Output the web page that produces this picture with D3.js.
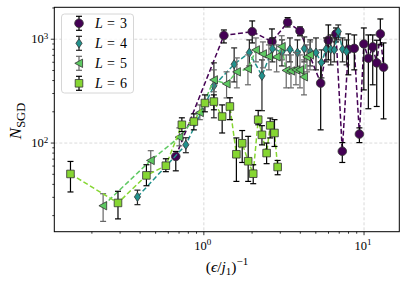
<!DOCTYPE html>
<html><head><meta charset="utf-8">
<script src="https://cdn.jsdelivr.net/npm/d3@7"></script>
<style>body{margin:0;background:#fff} svg{display:block} text{font-family:"Liberation Serif","DejaVu Serif",serif;fill:#000}</style>
</head><body><svg id="c" width="407" height="281"></svg>
<script>
// ---- data ----
const L3_x = [0.668,1.334,2.004,2.661,3.335,3.981,5.361,5.984,6.683,7.315,7.98,8.69,9.354,9.97,10.64,11.33,12.0,12.64,13.24];
const L3_y = [74.3,1088,1183,948,1456,1202,378,978,1125,83.4,801,816,122,901,656,844,592,1125,538];
const L3_lo = [54,921,921,661,1313,1080,134,632,942,65,454,507,101,325,214,364,225,882,171];
const L3_hi = [83,1228,1500,1256,1614,1313,605,1373,1284,101,1125,1100,140,1284,1100,1100,978,1567,921];

const L4_x = [0.385,0.772,1.155,1.546,1.923,2.305,2.68,3.072,3.447,3.839,4.236,4.615,5.012,5.421,5.788,6.194,6.518,6.905,7.341,7.775];
const L4_y = [30.3,96.3,356,574,743,444,811,755,798,743,811,760,743,596,801,801,789,1188,801,763];
const L4_lo = [25.5,80.7,175,388,553,205,605,553,605,530,605,553,507,424,605,566,605,985,605,566];
const L4_hi = [35.2,112.5,592,825,985,632,1029,985,1029,985,1052,985,1029,789,1029,1100,1029,1373,1029,985];

const L5_x = [0.235,0.466,0.703,0.944,1.155,1.386,1.607,1.884,2.113,2.337,2.548,2.846,3.06,3.268,3.497,3.758,3.981,4.217,4.402,4.597];
const L5_y = [24.9,68.0,114,197,406,372,485,518,789,722,681,676,849,501,495,507,507,434,676,706];
const L5_lo = [17.6,53.0,94,168,312,272,340,364,605,530,507,485,632,340,340,364,340,291,485,507];
const L5_hi = [32.5,84.4,140,233,507,485,661,706,1029,942,882,882,1080,706,706,746,706,632,882,942];

const L6_x = [0.147,0.291,0.438,0.579,0.729,0.866,1.015,1.155,1.301,1.454,1.596,1.735,1.891,2.033,2.184,2.305,2.465,2.595,2.76,2.888];
const L6_y = [50.4,26.5,48.8,60.5,150,161,243,251,180,225,78,99.5,66.8,50.7,168,120,80.1,148,125,58.8];
const L6_lo = [33.8,18.6,38.8,53.0,129,134,200,209,125,168,42.7,65,42.7,40.6,150,96,63.3,112,92.7,49.5];
const L6_hi = [66.5,34.3,61.8,70.6,175,191,291,291,233,273,112,132,116,61.8,206,147,100,174,168,68];

const seriesLabels = ["3","4","5","6"];
const xMajor = [1, 10];
const yMajor = [100, 1000];
const xMajorLabels = ["0","1"];
const yMajorLabels = ["2","3"];

// ---- layout ----
const svg = d3.select("#c");
const pL=54.3, pR=399.3, pT=7.3, pB=231.7;
const x = d3.scaleLog().domain([0.1165, 16.6]).range([pL, pR]);
const y = d3.scaleLog().domain([14.0, 2030]).range([pB, pT]);

const colors = ["#440154","#21918c","#5ec962","#86d632"];
const errColors = ["#000","#222","#666","#000"];
const shapes = ["circle","diamond","triangle","square"];

const series = [
  {x:L3_x,y:L3_y,lo:L3_lo,hi:L3_hi},
  {x:L4_x,y:L4_y,lo:L4_lo,hi:L4_hi},
  {x:L5_x,y:L5_y,lo:L5_lo,hi:L5_hi},
  {x:L6_x,y:L6_y,lo:L6_lo,hi:L6_hi}
].map((s,i)=>({...s, label:seriesLabels[i], color:colors[i], ecol:errColors[i], shape:shapes[i],
  pts:s.x.map((v,j)=>({x:v,y:s.y[j],lo:s.lo[j],hi:s.hi[j]}))}));

// grid
const g = svg.append("g");
xMajor.forEach(v=>g.append("line").attr("x1",x(v)).attr("x2",x(v)).attr("y1",pT).attr("y2",pB)
  .attr("stroke","#d0d0d0").attr("stroke-width",0.8).attr("stroke-dasharray","3,2"));
yMajor.forEach(v=>g.append("line").attr("y1",y(v)).attr("y2",y(v)).attr("x1",pL).attr("x2",pR)
  .attr("stroke","#d0d0d0").attr("stroke-width",0.8).attr("stroke-dasharray","3,2"));

function markerPath(shape, cx, cy){
  if(shape==="circle"){ const r=4.3; return `M${cx+r},${cy}A${r},${r} 0 1,1 ${cx-r},${cy}A${r},${r} 0 1,1 ${cx+r},${cy}Z`; }
  if(shape==="diamond"){ const w=3.1,h=4.6; return `M${cx},${cy-h}L${cx+w},${cy}L${cx},${cy+h}L${cx-w},${cy}Z`; }
  if(shape==="triangle"){ const s=4.2; return `M${cx-s},${cy}L${cx+s*0.85},${cy-s}L${cx+s*0.85},${cy+s}Z`; }
  const s=3.8; return `M${cx-s},${cy-s}H${cx+s}V${cy+s}H${cx-s}Z`;
}

const plot = svg.append("g");
const lineGen = d3.line().x(d=>x(d.x)).y(d=>y(d.y));
series.forEach(s=>{
  const gs = plot.append("g");
  gs.append("path").attr("d",lineGen(s.pts)).attr("fill","none").attr("stroke",s.color)
    .attr("stroke-width",1.5).attr("stroke-dasharray","5,2.6");
  s.pts.forEach(p=>{
    const px=x(p.x);
    gs.append("line").attr("x1",px).attr("x2",px).attr("y1",y(p.lo)).attr("y2",y(p.hi)).attr("stroke",s.ecol).attr("stroke-width",1.2);
    [p.lo,p.hi].forEach(v=>gs.append("line").attr("x1",px-3).attr("x2",px+3).attr("y1",y(v)).attr("y2",y(v)).attr("stroke",s.ecol).attr("stroke-width",1.2));
  });
  s.pts.forEach(p=>{
    gs.append("path").attr("d",markerPath(s.shape,x(p.x),y(p.y))).attr("fill",s.color).attr("stroke","#333").attr("stroke-width",0.8);
  });
});

// axes frame
svg.append("rect").attr("x",pL).attr("y",pT).attr("width",pR-pL).attr("height",pB-pT)
  .attr("fill","none").attr("stroke","#000").attr("stroke-width",1);

function minorVals(domain){
  const out=[]; for(let e=-2;e<=4;e++){ for(let k=2;k<=9;k++){ const v=k*Math.pow(10,e); if(v>=domain[0]&&v<=domain[1]) out.push(v);} } return out;
}
const ax = svg.append("g");
function tick(x1,y1,x2,y2){ ax.append("line").attr("x1",x1).attr("y1",y1).attr("x2",x2).attr("y2",y2).attr("stroke","#000").attr("stroke-width",0.8); }
xMajor.forEach(v=>tick(x(v),pB,x(v),pB+3.5));
minorVals(x.domain()).forEach(v=>tick(x(v),pB,x(v),pB+2));
yMajor.forEach(v=>tick(pL,y(v),pL-3.5,y(v)));
minorVals(y.domain()).forEach(v=>tick(pL,y(v),pL-2,y(v)));

// tick labels
xMajor.forEach((v,i)=>{
  const t=ax.append("text").attr("x",x(v)-1).attr("y",pB+18).attr("text-anchor","middle").attr("font-size",12.5);
  t.append("tspan").text("10");
  t.append("tspan").attr("dy",-4.5).attr("font-size",9).text(xMajorLabels[i]);
});
yMajor.forEach((v,i)=>{
  const t=ax.append("text").attr("x",pL-6).attr("y",y(v)+4).attr("text-anchor","end").attr("font-size",12.5);
  t.append("tspan").text("10");
  t.append("tspan").attr("dy",-4.5).attr("font-size",9).text(yMajorLabels[i]);
});

// axis titles
const xt = svg.append("text").attr("x",227).attr("y",272).attr("text-anchor","middle").attr("font-size",15.5);
xt.append("tspan").text("(");
xt.append("tspan").attr("font-style","italic").text("ϵ");
xt.append("tspan").text("/");
xt.append("tspan").attr("font-style","italic").text("j");
xt.append("tspan").attr("dy",3).attr("font-size",11).text("1");
xt.append("tspan").attr("dy",-3).text(")");
xt.append("tspan").attr("dy",-7).attr("font-size",11).text("−1");

const yt = svg.append("text").attr("transform","translate(21,121) rotate(-90)").attr("text-anchor","middle").attr("font-size",17);
yt.append("tspan").attr("font-style","italic").text("N");
yt.append("tspan").attr("dy",3.5).attr("font-size",12.5).text("SGD");

// legend
const lg = svg.append("g");
lg.append("rect").attr("x",61.5).attr("y",14).attr("width",72).attr("height",79).attr("rx",3)
  .attr("fill","#fff").attr("fill-opacity",0.8).attr("stroke","#ccc").attr("stroke-width",0.8);
series.forEach((s,i)=>{
  const cy=23.3+i*20, cx=79;
  lg.append("line").attr("x1",cx).attr("x2",cx).attr("y1",cy-7).attr("y2",cy+7).attr("stroke",s.ecol).attr("stroke-width",1.2);
  [cy-7,cy+7].forEach(v=>lg.append("line").attr("x1",cx-3).attr("x2",cx+3).attr("y1",v).attr("y2",v).attr("stroke",s.ecol).attr("stroke-width",1.2));
  lg.append("path").attr("d",markerPath(s.shape,cx,cy)).attr("fill",s.color).attr("stroke","#333").attr("stroke-width",0.8);
  lg.append("text").attr("x",95).attr("y",cy+4.7).attr("font-size",14).attr("font-style","italic").text("L");
  lg.append("text").attr("x",107).attr("y",cy+4.7).attr("font-size",14).text("=");
  lg.append("text").attr("x",120).attr("y",cy+4.7).attr("font-size",14).text(s.label);
});
</script></body></html>
